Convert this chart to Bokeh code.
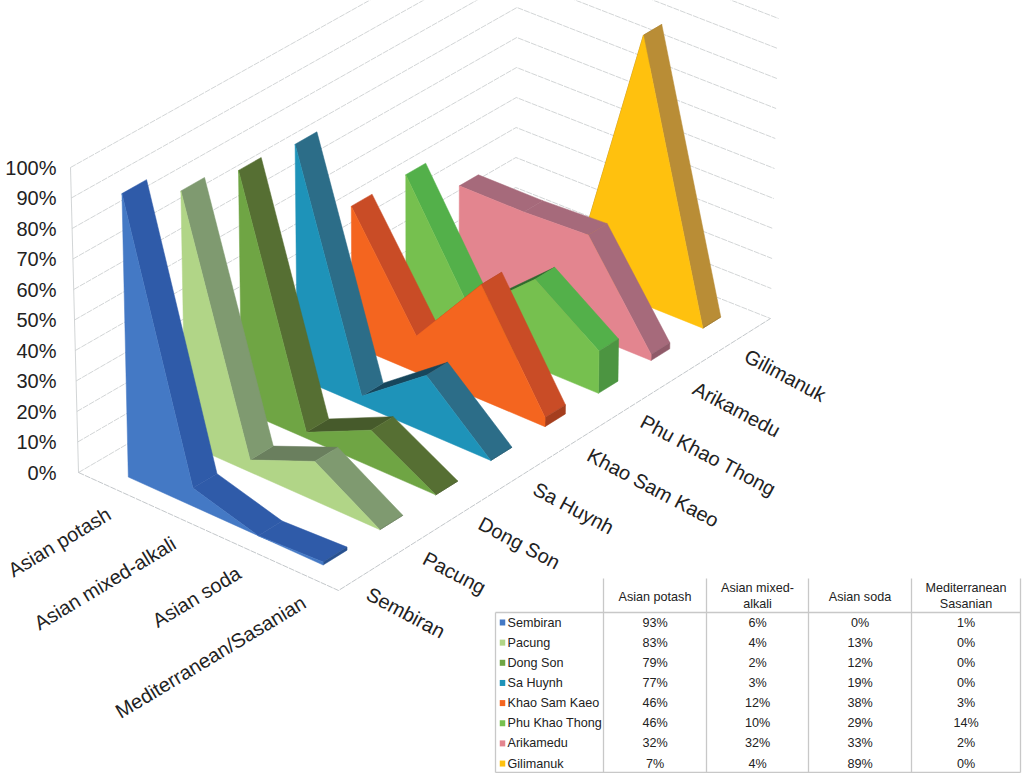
from bokeh.plotting import figure
from bokeh.models import Range1d
from bokeh.core.properties import value
from bokeh.embed import file_html
from bokeh.resources import INLINE

# Share of each glass type per site (percent)
glass_types = ["Asian potash", "Asian mixed-alkali", "Asian soda", "Mediterranean/Sasanian"]
table_headers = [["Asian potash"], ["Asian mixed-", "alkali"], ["Asian soda"], ["Mediterranean", "Sasanian"]]
sites = ["Sembiran", "Pacung", "Dong Son", "Sa Huynh", "Khao Sam Kaeo",
         "Phu Khao Thong", "Arikamedu", "Gilimanuk"]
sembiran = [93, 6, 0, 1]
pacung = [83, 4, 13, 0]
dong_son = [79, 2, 12, 0]
sa_huynh = [77, 3, 19, 0]
khao_sam_kaeo = [46, 12, 38, 3]
phu_khao_thong = [46, 10, 29, 14]
arikamedu = [32, 32, 33, 2]
gilimanuk = [7, 4, 89, 0]
series = [sembiran, pacung, dong_son, sa_huynh, khao_sam_kaeo, phu_khao_thong, arikamedu, gilimanuk]
pct_ticks = list(range(0, 101, 10))

# Face, sloped-top and under-lit shades per site
face_colors = ["#4479C5", "#B1D587", "#6FA544", "#1E93B9", "#F4651F", "#76C04F", "#E3858F", "#FFC10E"]
top_colors = ["#2F5BA9", "#7F9A70", "#566F33", "#2C6D88", "#C94C26", "#53B04A", "#A66A7B", "#B98D36"]
dark_colors = ["#27508F", "#6A7F5E", "#465A2B", "#17465C", "#A53E1E", "#2F6B2E", "#8F5A69", "#9A752C"]
cap_colors = ["#27508F", "#6A7F5E", "#465A2B", "#245A70", "#A53E1E", "#4C9541", "#8F5A69", "#9A752C"]

# Floor corners of the oblique box, in page pixels
CORNER_A = (78, 472)    # left, at the wall
CORNER_B = (515, 217)   # back
CORNER_C = (770, 318)   # right
CORNER_D = (338, 590)   # front


def project(u, v, pct):
    """Map category position u, site depth v and height in percent to page pixels."""
    v = v + 0.06 * v * (1 - v)  # depth foreshortening
    fx = (1 - u) * (1 - v) * CORNER_A[0] + u * (1 - v) * CORNER_D[0] + (1 - u) * v * CORNER_B[0] + u * v * CORNER_C[0]
    fy = (1 - u) * (1 - v) * CORNER_A[1] + u * (1 - v) * CORNER_D[1] + (1 - u) * v * CORNER_B[1] + u * v * CORNER_C[1]
    x = fx + (fx - 424) / 346 * 8 * pct / 100
    y = fy - (3.05 - 0.05 * v) * pct
    return x, y


def polygon(points):
    xs, ys = zip(*(project(*pt) for pt in points))
    return list(xs), list(ys)


p = figure(width=1023, height=773, output_backend="svg", toolbar_location=None,
           x_range=Range1d(0, 1023), y_range=Range1d(773, 0), min_border=0)
p.axis.visible = False
p.grid.visible = False
p.outline_line_color = None
p.background_fill_color = "#FFFFFF"

GRID = "#C6CACC"
# Wall gridlines at each ten percent
wall_x, wall_y = [], []
for t in pct_ticks:
    xs, ys = polygon([(0, 0, t), (0, 1, t), (1, 1, t)])
    wall_x.append(xs)
    wall_y.append(ys)
p.multi_line(wall_x, wall_y, line_color=GRID, line_width=0.8, line_dash="6 1")

# Floor outline and the left wall's upright
edge_xs, edge_ys = polygon([(0, 0, 0), (1, 0, 0), (1, 1, 0)])
p.line(edge_xs, edge_ys, line_color="#B4B9BC", line_width=0.8, line_dash="6 1")
up_xs, up_ys = polygon([(0, 0, 0), (0, 0, 100)])
p.line(up_xs, up_ys, line_color=GRID, line_width=0.8)

# Ribbons, painted from the back site forwards
BANDS = len(glass_types)
DEPTH = len(sites)
for s in range(DEPTH - 1, -1, -1):
    vals = series[s]
    v0 = (s + 0.3) / DEPTH
    v1 = v0 + (0.42 - 0.07 * s / (DEPTH - 1)) / DEPTH
    us = [(i + 0.5) / BANDS for i in range(BANDS)]
    xs_all, ys_all, fills = [], [], []

    # Rising tops first, the falling ones cover them at a crest
    segments = list(range(BANDS - 1))
    rising = [i for i in segments if vals[i + 1] - vals[i] >= 3]
    others = [i for i in segments if i not in rising]
    for i in rising + others:
        xs, ys = polygon([(us[i], v0, vals[i]), (us[i + 1], v0, vals[i + 1]),
                          (us[i + 1], v1, vals[i + 1]), (us[i], v1, vals[i])])
        xs_all.append(xs)
        ys_all.append(ys)
        fills.append(dark_colors[s] if i in rising else top_colors[s])

    # End cap on the right
    xs, ys = polygon([(us[-1], v0, 0), (us[-1], v1, 0), (us[-1], v1, vals[-1]), (us[-1], v0, vals[-1])])
    xs_all.append(xs)
    ys_all.append(ys)
    fills.append(cap_colors[s])

    # Front face
    pts = [(us[0], v0, 0), (us[-1], v0, 0)]
    pts += [(us[i], v0, vals[i]) for i in range(BANDS - 1, -1, -1)]
    xs, ys = polygon(pts)
    xs_all.append(xs)
    ys_all.append(ys)
    fills.append(face_colors[s])

    p.patches(xs_all, ys_all, fill_color=fills, line_color=fills, line_width=0.5)

FONT = value("Liberation Sans")
INK = "#222222"

# Percent scale
p.text([56] * len(pct_ticks), [472 - 3.05 * t for t in pct_ticks], text=[f"{t}%" for t in pct_ticks],
       text_font=FONT, text_font_size="20px", text_color=INK, text_align="right", text_baseline="middle")

# Glass type labels along the front-left floor edge
for i, name in enumerate(glass_types):
    x, y = project((i + 0.5) / BANDS, 0, 0)
    p.text([x - 2], [y + 25], text=[name], text_font=FONT, text_font_size="20px", text_color=INK,
           text_align="right", text_baseline="middle", angle=31, angle_units="deg")

# Site labels along the front-right floor edge
for s, name in enumerate(sites):
    x, y = project(1, (s + 0.5) / DEPTH, 0)
    p.text([x + 1], [y + 20], text=[name], text_font=FONT, text_font_size="20px", text_color=INK,
           text_align="left", text_baseline="middle", angle=-28, angle_units="deg")

# Data table
TABLE_LEFT, TABLE_RIGHT = 495, 1020
HEAD_TOP, HEAD_BOTTOM, TABLE_BOTTOM = 578, 612, 772
COLS = [603, 706, 808, 911, 1020]
ROW_TOP = 622
ROW_STEP = 20.15
RULE = "#C8C8C8"
p.segment(COLS, [HEAD_TOP] * 5, COLS, [TABLE_BOTTOM] * 5, line_color=RULE, line_width=1.3)
p.segment([TABLE_LEFT, TABLE_LEFT, TABLE_LEFT], [HEAD_BOTTOM, TABLE_BOTTOM, HEAD_BOTTOM],
          [TABLE_RIGHT, TABLE_RIGHT, TABLE_LEFT], [HEAD_BOTTOM, TABLE_BOTTOM, TABLE_BOTTOM],
          line_color=RULE, line_width=1.3)

TABLE_SIZE = "12.6px"
for c, lines in enumerate(table_headers):
    cx = (COLS[c] + COLS[c + 1]) / 2
    ys = [596] if len(lines) == 1 else [587, 603]
    p.text([cx] * len(lines), ys, text=lines, text_font=FONT, text_font_size=TABLE_SIZE, text_color=INK,
           text_align="center", text_baseline="middle")

for s, name in enumerate(sites):
    y = ROW_TOP + s * ROW_STEP
    p.rect([502], [y], width=5.5, height=6, fill_color=face_colors[s], line_color=None)
    p.text([507], [y], text=[name], text_font=FONT, text_font_size=TABLE_SIZE, text_color=INK,
           text_align="left", text_baseline="middle")
    cxs = [(COLS[c] + COLS[c + 1]) / 2 for c in range(BANDS)]
    p.text(cxs, [y] * BANDS, text=[f"{val}%" for val in series[s]], text_font=FONT,
           text_font_size=TABLE_SIZE, text_color=INK, text_align="center", text_baseline="middle")

open("out.html", "w").write(file_html(p, INLINE))
